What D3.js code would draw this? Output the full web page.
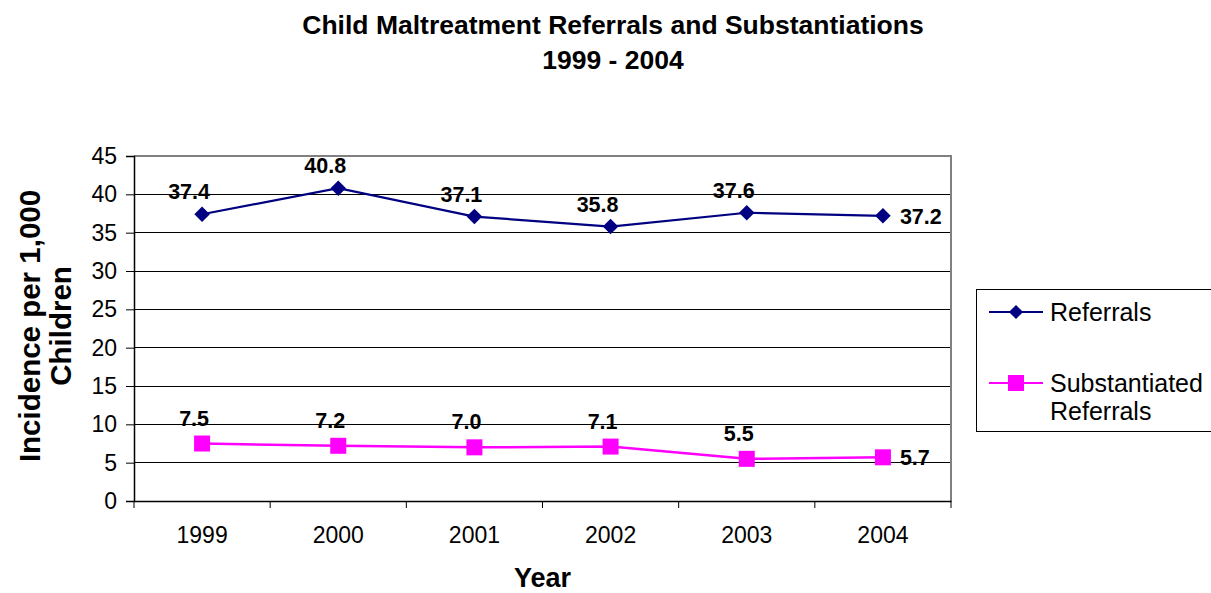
<!DOCTYPE html>
<html>
<head>
<meta charset="utf-8">
<script src="https://cdn.jsdelivr.net/npm/d3@7"></script>
<style>
  html, body { margin: 0; padding: 0; background: #fff; }
  svg { display: block; font-family: "Liberation Sans", Arial, sans-serif; }
</style>
</head>
<body>
<svg id="chart" width="1211" height="593"></svg>
<script>
// ---- data ----
const years = ["1999", "2000", "2001", "2002", "2003", "2004"];
const referrals = [37.4, 40.8, 37.1, 35.8, 37.6, 37.2];
const substantiated = [7.5, 7.2, 7.0, 7.1, 5.5, 5.7];
const yTicks = [0, 5, 10, 15, 20, 25, 30, 35, 40, 45];
const titleLines = ["Child Maltreatment Referrals and Substantiations", "1999 - 2004"];
const yTitleLines = ["Incidence per 1,000", "Children"];
const xTitle = "Year";
const seriesNames = ["Referrals", "Substantiated\nReferrals"];

// ---- layout ----
const svg = d3.select("#chart");
const plot = { left: 134, right: 951, top: 156, bottom: 501 };

const x = d3.scaleBand().domain(years).range([plot.left, plot.right]).padding(0);
const y = d3.scaleLinear().domain([0, 45]).range([plot.bottom, plot.top]);
const cx = d => x(d) + x.bandwidth() / 2;

// gridlines
svg.append("g").selectAll("line")
  .data(yTicks.filter(t => t > 0 && t < 45))
  .join("line")
  .attr("x1", plot.left).attr("x2", plot.right)
  .attr("y1", d => y(d)).attr("y2", d => y(d))
  .attr("stroke", "#000").attr("stroke-width", 1).attr("shape-rendering", "crispEdges");

// plot border (top & right grey)
svg.append("path")
  .attr("d", `M${plot.left},${y(45)}H${plot.right}V${plot.bottom}`)
  .attr("fill", "none").attr("stroke", "#808080").attr("stroke-width", 2);

// y axis
const yAxis = d3.axisLeft(y).tickValues(yTicks).tickSize(8).tickPadding(9);
const gy = svg.append("g").attr("transform", `translate(${plot.left},0)`).call(yAxis);
gy.select(".domain").attr("stroke", "#000").attr("stroke-width", 1.5);
gy.selectAll(".tick line").attr("stroke", "#000");
gy.selectAll(".tick text").attr("font-size", 23).attr("fill", "#000")
  .attr("font-family", "Liberation Sans, Arial, sans-serif");

// x axis
const xAxis = d3.axisBottom(x).tickSize(0).tickPadding(26);
const gx = svg.append("g").attr("transform", `translate(0,${plot.bottom})`).call(xAxis);
gx.select(".domain").attr("stroke", "#000").attr("stroke-width", 1.5);
gx.selectAll(".tick text").attr("font-size", 23).attr("fill", "#000")
  .attr("font-family", "Liberation Sans, Arial, sans-serif");
// category boundary ticks
const bounds = years.map(d => x(d)).concat([x(years[years.length - 1]) + x.bandwidth()]);
svg.append("g").selectAll("line").data(bounds).join("line")
  .attr("x1", d => d).attr("x2", d => d)
  .attr("y1", plot.bottom).attr("y2", plot.bottom + 7)
  .attr("stroke", "#000").attr("stroke-width", 1);

// series
const line = d3.line().x((d, i) => cx(years[i])).y(d => y(d));
svg.append("path").datum(referrals).attr("d", line)
  .attr("fill", "none").attr("stroke", "#000080").attr("stroke-width", 2.2);
svg.append("path").datum(substantiated).attr("d", line)
  .attr("fill", "none").attr("stroke", "#FF00FF").attr("stroke-width", 2.5);

svg.append("g").selectAll("rect").data(referrals).join("rect")
  .attr("x", -5.5).attr("y", -5.5).attr("width", 11).attr("height", 11)
  .attr("transform", (d, i) => `translate(${cx(years[i])},${y(d)}) rotate(45)`)
  .attr("fill", "#000080");
svg.append("g").selectAll("rect").data(substantiated).join("rect")
  .attr("x", (d, i) => cx(years[i]) - 8).attr("y", d => y(d) - 8)
  .attr("width", 16).attr("height", 16)
  .attr("fill", "#FF00FF");

// data labels
function labels(values, dx, dy) {
  const n = values.length;
  svg.append("g").selectAll("text").data(values).join("text")
    .attr("x", (d, i) => i === n - 1 ? cx(years[i]) + 17 : cx(years[i]) + dx)
    .attr("y", (d, i) => i === n - 1 ? y(d) + 8 : y(d) + dy)
    .attr("text-anchor", (d, i) => i === n - 1 ? "start" : "middle")
    .attr("font-size", 21.5).attr("font-weight", "bold").attr("fill", "#000")
    .text(d => d.toFixed(1));
}
labels(referrals, -13, -15);
labels(substantiated, -8, -18);

// title
svg.append("g").selectAll("text").data(titleLines).join("text")
  .attr("x", 613).attr("y", (d, i) => 34 + i * 35)
  .attr("text-anchor", "middle").attr("font-size", 26.5).attr("font-weight", "bold")
  .text(d => d);

// y axis title
svg.append("g").attr("transform", "translate(0,326) rotate(-90)")
  .selectAll("text").data(yTitleLines).join("text")
  .attr("x", 0).attr("y", (d, i) => 40 + i * 31)
  .attr("text-anchor", "middle").attr("font-size", 29.5).attr("font-weight", "bold")
  .text(d => d);

// x axis title
svg.append("text").attr("x", (plot.left + plot.right) / 2).attr("y", 587)
  .attr("text-anchor", "middle").attr("font-size", 27).attr("font-weight", "bold")
  .text(xTitle);

// legend
const lg = svg.append("g");
lg.append("rect").attr("x", 976.5).attr("y", 289.5).attr("width", 250).attr("height", 142)
  .attr("fill", "#fff").attr("stroke", "#000").attr("stroke-width", 1);
const rows = [
  { name: seriesNames[0], color: "#000080", yy: 312, marker: "diamond" },
  { name: seriesNames[1], color: "#FF00FF", yy: 383, marker: "square" }
];
rows.forEach(r => {
  lg.append("line").attr("x1", 989).attr("x2", 1043).attr("y1", r.yy).attr("y2", r.yy)
    .attr("stroke", r.color).attr("stroke-width", 2.2);
  if (r.marker === "diamond") {
    lg.append("rect").attr("x", -5).attr("y", -5).attr("width", 10).attr("height", 10)
      .attr("transform", `translate(1016,${r.yy}) rotate(45)`).attr("fill", r.color);
  } else {
    lg.append("rect").attr("x", 1008).attr("y", r.yy - 8).attr("width", 16).attr("height", 16)
      .attr("fill", r.color);
  }
  const t = lg.append("text").attr("x", 1050).attr("y", r.yy + 9)
    .attr("font-size", 25).attr("fill", "#000");
  r.name.split("\n").forEach((s, k) => {
    t.append("tspan").attr("x", 1050).attr("dy", k === 0 ? 0 : 28).text(s);
  });
});
</script>
</body>
</html>
